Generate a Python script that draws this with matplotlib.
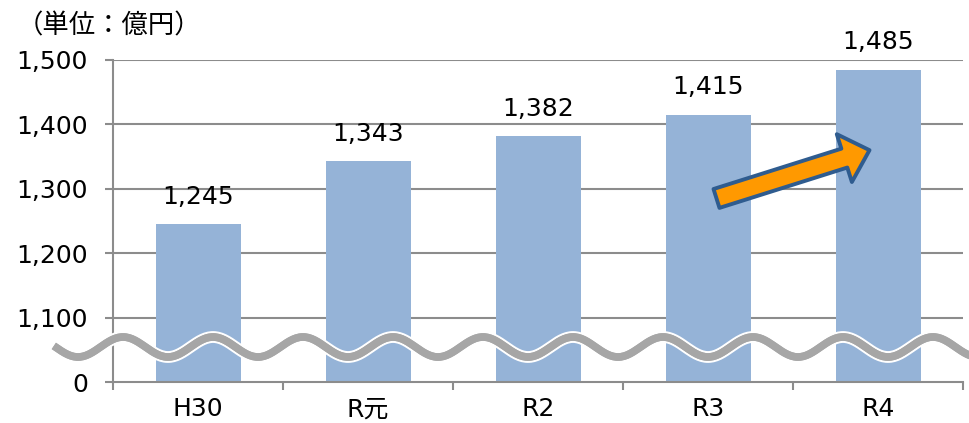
import numpy as np
import matplotlib
matplotlib.use("Agg")
import matplotlib.pyplot as plt
from matplotlib import patheffects

# data
categories = ["H30", "R元", "R2", "R3", "R4"]
values = [1245, 1343, 1382, 1415, 1485]
ytick_vals = [1000, 1100, 1200, 1300, 1400, 1500]
ytick_labels = ["0", "1,100", "1,200", "1,300", "1,400", "1,500"]
unit_label = "（単位：億円）"

plt.rcParams["font.family"] = ["DejaVu Sans", "Noto Sans CJK JP"]

W, H = 970, 423
fig = plt.figure(figsize=(W / 100, H / 100), dpi=100)
ax = fig.add_axes([113 / W, 1 - 382 / H, 850 / W, 322 / H])

x = np.arange(len(categories))
ax.bar(x, values, width=0.5, color="#95B3D7", zorder=2)

ax.set_xlim(-0.5, len(categories) - 0.5)
ax.set_ylim(1000, 1500)
ax.set_yticks(ytick_vals)
ax.set_yticklabels(ytick_labels)
ax.set_xticks(x)
ax.set_xticklabels(categories)
ax.set_xticks(np.arange(len(categories) + 1) - 0.5, minor=True)

for yv in ytick_vals[1:]:
    ax.axhline(yv, color="#8c8c8c", lw=1.5, zorder=1)

for s in ["top", "right"]:
    ax.spines[s].set_visible(False)
for s in ["left", "bottom"]:
    ax.spines[s].set_color("#8c8c8c")
    ax.spines[s].set_linewidth(1.5)

ax.tick_params(axis="y", length=6, width=1.5, color="#8c8c8c",
               labelsize=18, pad=12)
ax.tick_params(axis="x", which="major", length=0, labelsize=18, pad=11)
ax.tick_params(axis="x", which="minor", length=6, width=1.5, color="#8c8c8c")

for xi, v in zip(x, values):
    ax.annotate(f"{v:,}", (xi, v), xytext=(0, 11), textcoords="offset points",
                ha="center", va="bottom", fontsize=18)

fig.text(17 / W, 1 - 26 / H, unit_label, fontsize=19, va="center", ha="left",
         family="Noto Sans CJK JP")

# break mark (wavy line) across the axis
wx = np.linspace(57, 975, 600)
wy = 347 - 10 * np.cos((wx - 123) / 90 * 2 * np.pi)
fig.add_artist(plt.Line2D(wx / W, 1 - wy / H, transform=fig.transFigure,
                          color="#a6a6a6", lw=5.5, zorder=5,
                          path_effects=[patheffects.withStroke(linewidth=8.5, foreground="white"),
                                        patheffects.Normal()]))

# trend arrow
ax.annotate("", xy=(3.95, 1360), xytext=(3.05, 1285),
            arrowprops=dict(arrowstyle="simple,head_length=1.0,head_width=1.9,tail_width=0.75",
                            fc="#FF9900", ec="#2F5C8F", lw=2.8,
                            mutation_scale=19, shrinkA=0, shrinkB=0),
            zorder=6)

fig.savefig("out.png", dpi=100)
